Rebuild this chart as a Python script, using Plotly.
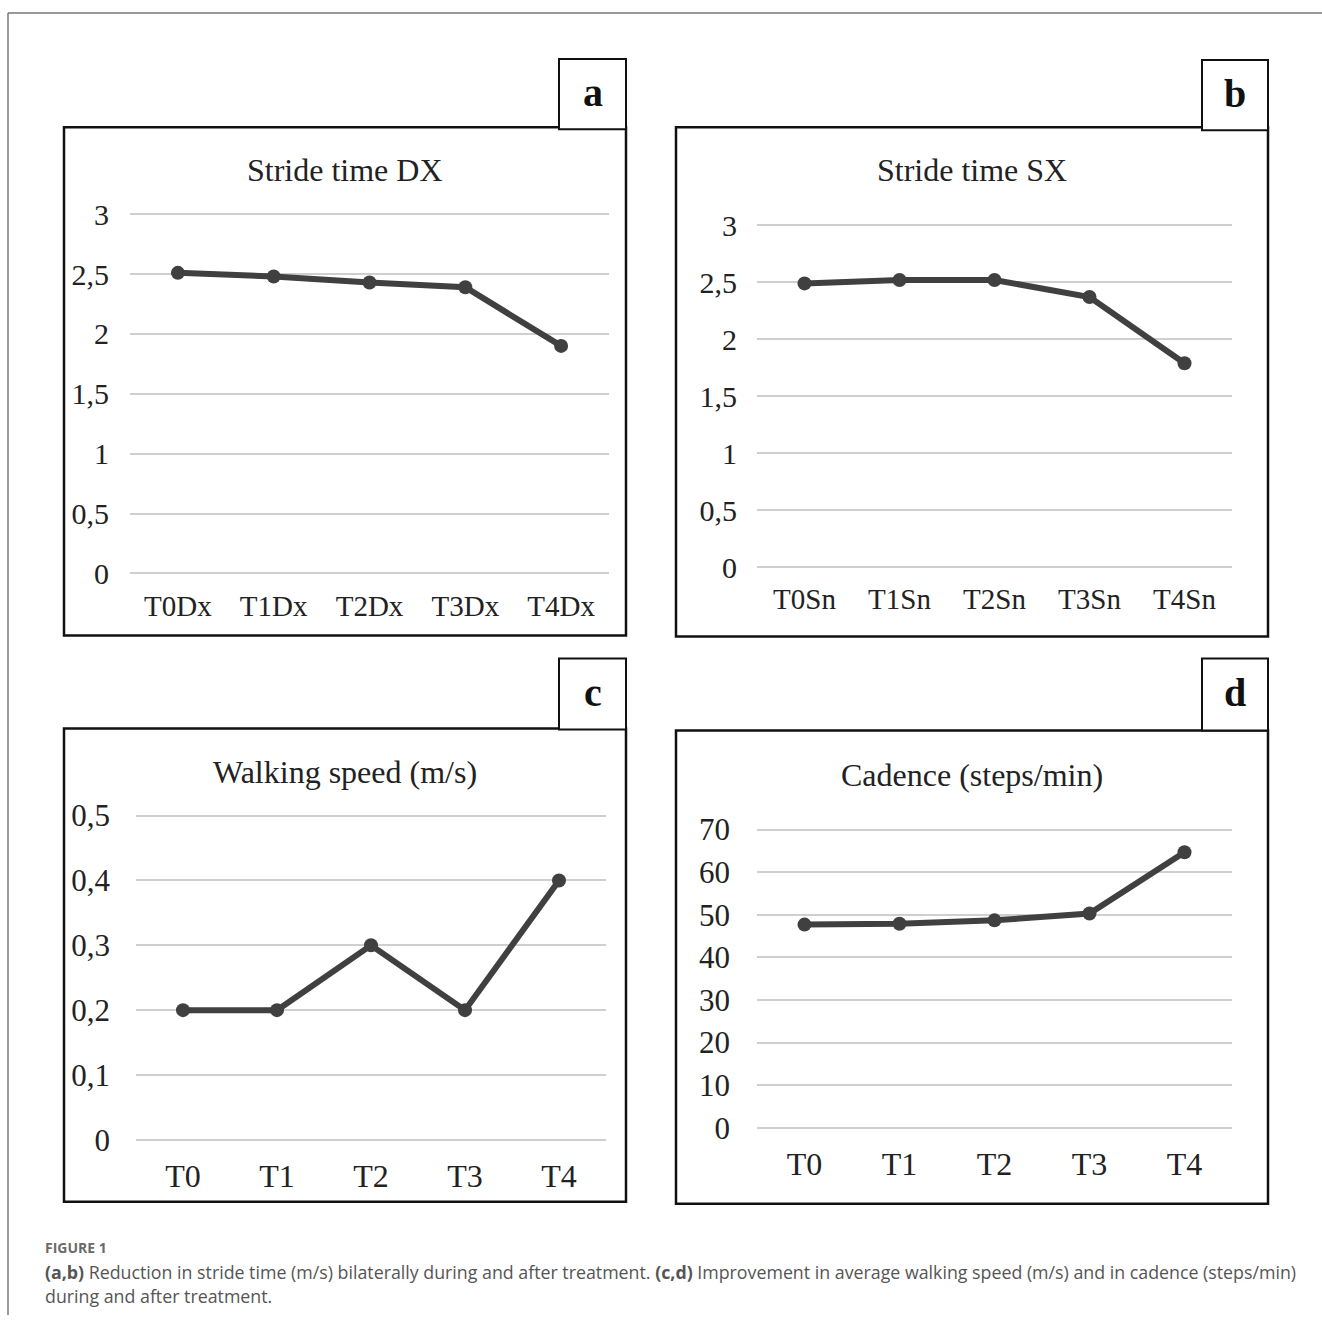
import plotly.graph_objects as go

W, H = 1322, 1327

# ---------------- data ----------------
cats_a = ["T0Dx", "T1Dx", "T2Dx", "T3Dx", "T4Dx"]
vals_a = [2.51, 2.48, 2.43, 2.39, 1.90]

cats_b = ["T0Sn", "T1Sn", "T2Sn", "T3Sn", "T4Sn"]
vals_b = [2.49, 2.52, 2.52, 2.37, 1.79]

cats_c = ["T0", "T1", "T2", "T3", "T4"]
vals_c = [0.2, 0.2, 0.3, 0.2, 0.4]

cats_d = ["T0", "T1", "T2", "T3", "T4"]
vals_d = [47.7, 47.9, 48.7, 50.3, 64.7]

titles = ["Stride time DX", "Stride time SX", "Walking speed (m/s)", "Cadence (steps/min)"]
letters = ["a", "b", "c", "d"]

ticks_a = [0, 0.5, 1, 1.5, 2, 2.5, 3]
ticks_b = [0, 0.5, 1, 1.5, 2, 2.5, 3]
ticks_c = [0, 0.1, 0.2, 0.3, 0.4, 0.5]
ticks_d = [0, 10, 20, 30, 40, 50, 60, 70]

# ---------------- layout geometry (pixels) ----------------
panels = [
    dict(cats=cats_a, vals=vals_a, ticks=ticks_a, x0=130, x1=609, v0=0, p0=574, v1=3, p1=215,
         box=(64, 128, 626, 636), lbox=(559, 60, 626, 130), title_xy=(345, 171),
         ystand=20, xstand=5, yfs=30, xfs=29, tfs=32),
    dict(cats=cats_b, vals=vals_b, ticks=ticks_b, x0=757, x1=1232, v0=0, p0=568, v1=3, p1=226,
         box=(676, 128, 1268, 637), lbox=(1202, 61, 1268, 131), title_xy=(972, 171),
         ystand=19, xstand=5, yfs=30, xfs=29, tfs=32),
    dict(cats=cats_c, vals=vals_c, ticks=ticks_c, x0=136, x1=606, v0=0, p0=1140, v1=0.5, p1=816,
         box=(64, 729, 626, 1202), lbox=(559, 659, 626, 730), title_xy=(345, 772),
         ystand=25, xstand=8, yfs=31, xfs=32, tfs=32),
    dict(cats=cats_d, vals=vals_d, ticks=ticks_d, x0=757, x1=1232, v0=0, p0=1128, v1=70, p1=830,
         box=(676, 731, 1268, 1204), lbox=(1202, 659, 1268, 731), title_xy=(972, 775),
         ystand=26, xstand=8, yfs=31, xfs=32, tfs=32),
]

# compensation for the vertical squeeze observed in the rendered photo
CY, SY = 663.5, 0.982

def px(x):
    return x / W

def py(y):
    yy = CY + (y - CY) / SY
    return 1 - yy / H

def fmt(v):
    s = ("%g" % v)
    return s.replace(".", ",")

SERIF = "Liberation Serif, Times New Roman, serif"
LINE = "#404040"

fig = go.Figure()
shapes = []
annotations = []

for i, p in enumerate(panels):
    n = "" if i == 0 else str(i + 1)
    xa, ya = "x" + n, "y" + n
    unit = (p["p0"] - p["p1"]) / (p["v1"] - p["v0"])
    pad = 0.02 * (p["v1"] - p["v0"])
    rmin, rmax = p["v0"] - pad, p["v1"] + pad
    dbot = p["p0"] + pad * unit
    dtop = p["p1"] - pad * unit

    fig.add_trace(go.Scatter(
        x=p["cats"], y=p["vals"], mode="lines+markers", xaxis=xa, yaxis=ya,
        line=dict(color=LINE, width=6), marker=dict(size=14, color=LINE),
        showlegend=False, hoverinfo="skip", cliponaxis=False))

    fig.update_layout(**{
        "xaxis" + n: dict(domain=[px(p["x0"]), px(p["x1"])], anchor=ya, type="category",
                          range=[-0.5, 4.5], showgrid=False, zeroline=False, showline=False,
                          ticks="", ticklabelstandoff=p["xstand"],
                          tickfont=dict(family=SERIF, size=p["xfs"], color="#222")),
        "yaxis" + n: dict(domain=[py(dbot), py(dtop)], anchor=xa, range=[rmin, rmax],
                          tickvals=p["ticks"], ticktext=[fmt(t) for t in p["ticks"]],
                          showgrid=True, gridcolor="#cfcfcf", gridwidth=2, zeroline=False,
                          showline=False, ticks="", ticklabelstandoff=p["ystand"],
                          tickfont=dict(family=SERIF, size=p["yfs"], color="#222")),
    })

    bx0, by0, bx1, by1 = p["box"]
    shapes.append(dict(type="rect", xref="paper", yref="paper", x0=px(bx0), x1=px(bx1),
                       y0=py(by1), y1=py(by0), line=dict(color="#111", width=2.5),
                       fillcolor="rgba(0,0,0,0)", layer="above"))
    lx0, ly0, lx1, ly1 = p["lbox"]
    shapes.append(dict(type="rect", xref="paper", yref="paper", x0=px(lx0), x1=px(lx1),
                       y0=py(ly1), y1=py(ly0), line=dict(color="#111", width=2),
                       fillcolor="white", layer="above"))
    annotations.append(dict(text="<b>%s</b>" % letters[i], xref="paper", yref="paper",
                            x=px((lx0 + lx1) / 2), y=py((ly0 + ly1) / 2 - 2),
                            xanchor="center", yanchor="middle", showarrow=False,
                            font=dict(family=SERIF, size=40, color="#111")))
    tx, ty = p["title_xy"]
    annotations.append(dict(text=titles[i], xref="paper", yref="paper", x=px(tx), y=py(ty),
                            xanchor="center", yanchor="middle", showarrow=False,
                            font=dict(family=SERIF, size=p["tfs"], color="#222")))

# outer frame lines
shapes.append(dict(type="line", xref="paper", yref="paper", x0=px(8), x1=1, y0=py(14), y1=py(14),
                   line=dict(color="#777", width=1.5)))
shapes.append(dict(type="line", xref="paper", yref="paper", x0=px(8), x1=px(8), y0=py(14), y1=0,
                   line=dict(color="#777", width=1.5)))

CAP = "Open Sans, Noto Sans, sans-serif"
annotations.append(dict(text="<b>FIGURE 1</b>", xref="paper", yref="paper", x=px(43), y=py(1248),
                        xanchor="left", yanchor="middle", showarrow=False,
                        font=dict(family=CAP, size=14, color="#6a6a6a")))
annotations.append(dict(
    text="<b>(a,b)</b> Reduction in stride time (m/s) bilaterally during and after treatment. "
         "<b>(c,d)</b> Improvement in average walking speed (m/s) and in cadence (steps/min)",
    xref="paper", yref="paper", x=px(43), y=py(1272), xanchor="left", yanchor="middle",
    showarrow=False, font=dict(family=CAP, size=17.8, color="#555")))
annotations.append(dict(text="during and after treatment.", xref="paper", yref="paper",
                        x=px(43), y=py(1296), xanchor="left", yanchor="middle",
                        showarrow=False, font=dict(family=CAP, size=17.8, color="#555")))

fig.update_layout(width=W, height=H, margin=dict(l=0, r=0, t=0, b=0),
                  paper_bgcolor="white", plot_bgcolor="white",
                  shapes=shapes, annotations=annotations, hovermode=False)

post = ("document.documentElement.style.margin='0';document.body.style.margin='0';"
        "document.documentElement.style.overflow='hidden';document.body.style.overflow='hidden';")
fig.write_html("out.html", config={"displayModeBar": False}, post_script=post)
